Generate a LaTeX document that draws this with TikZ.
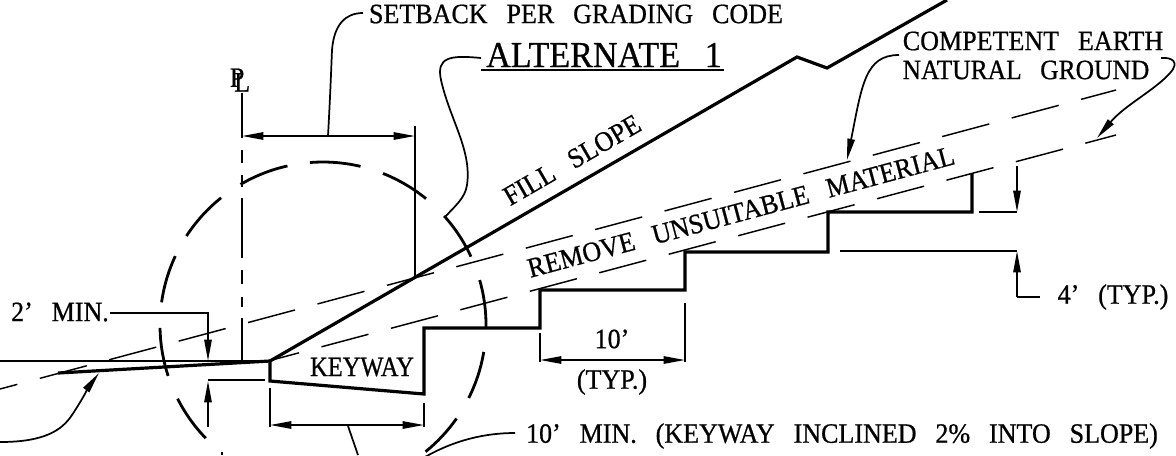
\documentclass[tikz,border=0pt]{standalone}
\usepackage{fontspec}
\setmainfont[WordSpace=2.9, FakeBold=0.7, FakeStretch=0.93]{Liberation Serif}
\usetikzlibrary{arrows.meta, calc}

\begin{document}
\begin{tikzpicture}[
  x=0.75pt, y=-0.75pt,
  heavy/.style={line width=2.4pt, line join=miter},
  rim/.style={line width=2.1pt},
  thin line/.style={line width=1.3pt},
  trace/.style={line width=1.1pt, dash pattern=on 36.5pt off 17.4pt},
  tip/.style={-{Stealth[length=16pt, width=5.5pt, inset=0pt]}, line width=1.3pt},
  span/.style={{Stealth[length=16pt, width=5.5pt, inset=0pt]}-{Stealth[length=16pt, width=5.5pt, inset=0pt]}, line width=1.3pt},
  note/.style={inner sep=0pt, font=\fontsize{21pt}{23pt}\selectfont, align=left}
]
  \useasboundingbox (0,0) rectangle (1176,455);
  \clip (0,0) rectangle (1176,455);

  % Ground and benches
  \draw[thin line] (0,361) -- (270,361);
  \draw[heavy] (58,373) -- (270,361);
  \draw[heavy] (270,361) -- (797,57) -- (827,68) -- (947,0);
  \draw[heavy] (270,361) -- (270,381) -- (424,394) -- (424,328) -- (540,328) -- (540,290)
    -- (685,290) -- (685,252) -- (828,252) -- (828,212) -- (972,212) -- (972,173);

  % Dashed earth lines
  \draw[trace, dash phase=23pt] (0,389) -- (1116,90);
  \draw[trace, dash phase=15.5pt] (272,360) -- (1116,135);

  % Property line
  \draw[rim] (242,93) -- (242,138);
  \draw[rim] (242,150) -- (242,163);
  \draw[rim] (242,175) -- (242,187);
  \draw[rim] (242,198) -- (242,258);
  \draw[rim] (242,270) -- (242,284);
  \draw[rim] (242,297) -- (242,307);
  \draw[rim] (242,318) -- (242,361);

  % Detail circle
  \coordinate (hub) at (323,325);
  \foreach \a/\b in {257.4/239.6, 265.4/283.3, 291.6/309.2, 318/335.2, 344/361, 9.5/26.6,
    35/51, 136/153.1, 161.8/179, 188/205, 213.1/231.3}
    \draw[rim] (hub) ++(\a:163) arc[start angle=\a, end angle=\b, radius=163];

  % Labels
  \node[note] (setback) at (576,14) {SETBACK PER GRADING CODE};
  \node[note, font=\fontsize{27.5pt}{29pt}\selectfont] (alternate) at (604,55) {ALTERNATE 1};
  \node[note] (plmark) at (240,80) {P\kern-.36em\raisebox{-3.5pt}{L}};
  \node[note, rotate=30] (fill) at (572,160) {FILL SLOPE};
  \node[note, rotate=15] (remove) at (741,212) {REMOVE UNSUITABLE MATERIAL};
  \node[note] (earth) at (1033,41) {COMPETENT EARTH};
  \node[note] (ground) at (1026,70) {\scalebox{.98}[1]{NATURAL GROUND}};
  \node[note] (twomin) at (60,312) {2' MIN.};
  \node[note] (keyway) at (362,367) {\scalebox{.94}[1]{KEYWAY}};
  \node[note] (ten) at (612,339) {10'};
  \node[note] (typ) at (612,382) {(TYP.)};
  \node[note] (fourtyp) at (1113,297) {4' (TYP.)};
  \node[note] (tenmin) at (842,436) {10' MIN. (KEYWAY INCLINED 2\% INTO SLOPE)};

  % Dimensions
  \draw[thin line] (481,70) -- (724,70);
  \draw[thin line] (415,126) -- (415,277);
  \draw[span] (242,136) -- (415,136);
  \draw[thin line] (270,388) -- (270,427);
  \draw[thin line] (424,403) -- (424,427);
  \draw[span] (270,425) -- (424,425);
  \draw[thin line] (540,333) -- (540,362);
  \draw[thin line] (685,303) -- (685,362);
  \draw[span] (540,360) -- (685,360);
  \draw[tip] (110,313) -- (208,313) -- (208,361);
  \draw[tip] (208,427) -- (208,381);
  \draw[thin line] (208,380) -- (265,380);
  \draw[tip] (1017,166) -- (1017,212);
  \draw[thin line] (979,212) -- (1017,212);
  \draw[thin line] (840,251) -- (1017,251);
  \draw[tip] (1017,297) -- (1017,251);
  \draw[thin line] (1017,297) -- (1040,297);

  % Leaders
  \draw[thin line] (328,136) .. controls (330,100) and (331,75) .. (332,50) .. controls (334,25) and (345,13) .. (363,13);
  \draw[thin line] (481,58) .. controls (450,55) and (436,57) .. (441,80)
    .. controls (450,120) and (472,150) .. (467,185) .. controls (465,198) and (456,205) .. (445,217);
  \draw[tip] (899,55) .. controls (865,55) and (862,85) .. (847,160);
  \draw[tip] (1161,58) .. controls (1172,57) and (1180,62) .. (1170,73)
    .. controls (1155,90) and (1125,105) .. (1097,138);
  \draw[tip] (0,442) .. controls (45,442) and (62,430) .. (72,415) .. controls (82,400) and (90,385) .. (99,373);
  \draw[thin line] (348,426) -- (358,455);
  \draw[thin line] (425,457) .. controls (455,440) and (485,433) .. (515,433);
  \draw[thin line] (222,452) -- (222,455);
\end{tikzpicture}
\end{document}
